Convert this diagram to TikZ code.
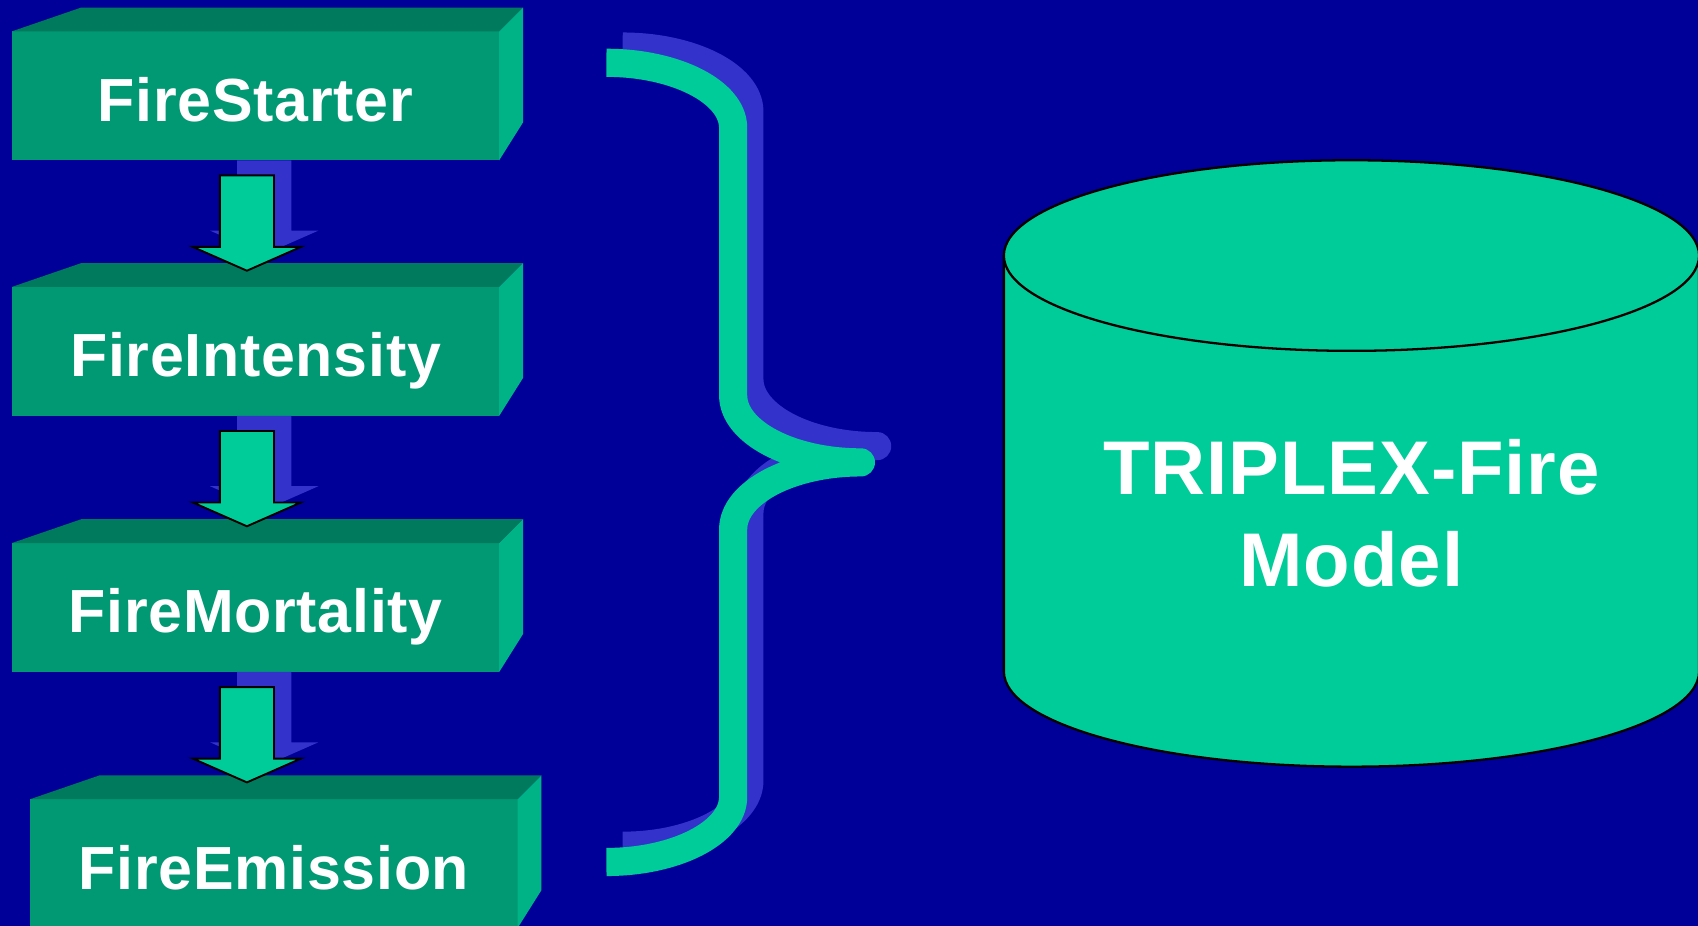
\documentclass[tikz,border=0pt]{standalone}
\usepackage{fontspec}
\setsansfont{Liberation Sans}[LetterSpace=1.2]
\usetikzlibrary{calc}

\definecolor{slideblue}{RGB}{0,0,153}
\definecolor{boxfront}{RGB}{0,153,115}
\definecolor{boxtop}{RGB}{0,122,92}
\definecolor{boxside}{RGB}{0,179,134}
\definecolor{mint}{RGB}{0,204,153}
\definecolor{shadowblue}{RGB}{51,51,204}

\tikzset{
  stage/.style={fill=boxfront, minimum width=45mm, minimum height=11.9mm,
    inner sep=0pt, outer sep=0pt, text=white,
    font=\sffamily\bfseries\fontsize{16}{19}\selectfont,
    text height=13.4pt, text depth=0pt},
  flow/.style={fill=mint, draw=black, line width=0.5pt, line join=miter},
  flowshade/.style={fill=shadowblue},
  curly/.style={line width=2.6mm, line join=round, line cap=butt},
  modeltext/.style={text=white, align=center,
    font=\sffamily\bfseries\fontsize{20}{24}\selectfont},
}

% top and right faces of a stage box
\newcommand\stagesides[1]{%
  \fill[boxtop] (#1.north west) -- ++(64,-22) -- ($(#1.north east)+(22,-22)$) -- (#1.north east) -- cycle;
  \fill[boxside] (#1.north east) -- ++(22,-22) -- ++(0,106) -- (#1.south east) -- cycle;
}

% block arrow below a stage box, with its shadow
\newcommand\flowarrow[1]{%
  \fill[flowshade] ($(#1.south)+(-17,0)$) -- ++(50,0) -- ++(0,65) -- ++(25,0) -- ++(-50,22) -- ++(-50,-22) -- ++(25,0) -- cycle;
  \draw[flow] ($(#1.south)+(-33,14)$) -- ++(50,0) -- ++(0,66) -- ++(25,0) -- ++(-50,22) -- ++(-50,-22) -- ++(25,0) -- cycle;
}

\begin{document}
\begin{tikzpicture}[x=0.1mm, y=-0.1mm]
    \useasboundingbox (0,0) rectangle (1568,855);
    \fill[slideblue] (0,0) rectangle (1568,855);

    % Stage boxes
    \node[stage] (starter) at (236,88.5) {FireStarter};
    \stagesides{starter}
    \node[stage] (intensity) at (236,324.5) {FireIntensity};
    \stagesides{intensity}
    \node[stage] (mortality) at (236,561) {FireMortality};
    \stagesides{mortality}
    \node[stage] (emission) at (253,797.5) {FireEmission};
    \stagesides{emission}

    % Arrows between the stages
    \flowarrow{starter}
    \flowarrow{intensity}
    \flowarrow{mortality}

    % Brace, shadow first
    \begin{scope}[shift={(15,-15)}]
        \draw[curly, shadowblue] (560,58) .. controls (624,58) and (677,85) .. (677,118) -- (677,365)
            .. controls (677,399) and (730,427) .. (795,427)
            .. controls (730,427) and (677,455) .. (677,489) -- (677,736)
            .. controls (677,769) and (624,796) .. (560,796);
    \end{scope}
    \draw[curly, mint] (560,58) .. controls (624,58) and (677,85) .. (677,118) -- (677,365)
        .. controls (677,399) and (730,427) .. (795,427)
        .. controls (730,427) and (677,455) .. (677,489) -- (677,736)
        .. controls (677,769) and (624,796) .. (560,796);

    % Model cylinder
    \draw[fill=mint, line width=0.6pt] (927,236) -- (927,620) arc (180:0:321 and 88) -- (1569,236);
    \draw[fill=mint, line width=0.6pt] (1248,236) ellipse (321 and 88);
    \node[modeltext] (model) at (1248,474) {TRIPLEX-Fire\\Model};

\end{tikzpicture}
\end{document}
